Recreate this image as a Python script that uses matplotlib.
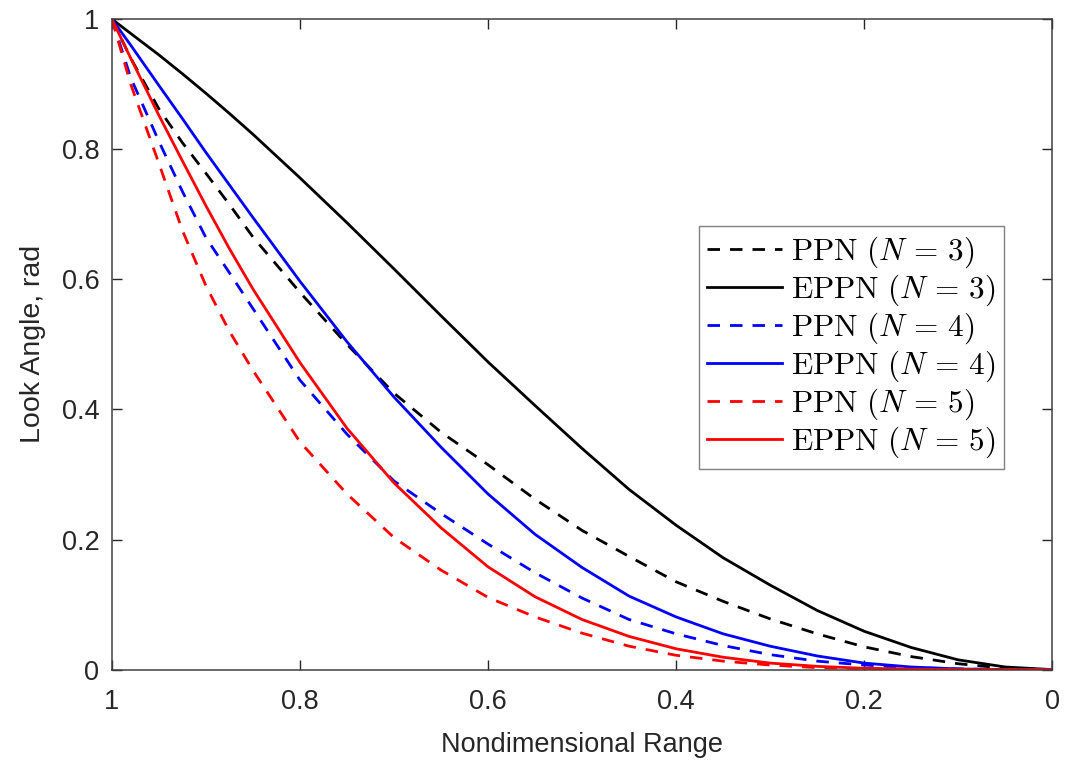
import matplotlib
matplotlib.use("Agg")
import matplotlib.pyplot as plt

# Nondimensional range (x axis runs from 1 down to 0)
rng = [1.0, 0.99, 0.98, 0.95, 0.925, 0.9, 0.875, 0.85, 0.8, 0.75, 0.7, 0.65, 0.6,
       0.55, 0.5, 0.45, 0.4, 0.35, 0.3, 0.25, 0.2, 0.15, 0.1, 0.05, 0.0]

# look angle [rad]
ppn3  = [1.0, 0.97, 0.94, 0.862, 0.81, 0.763, 0.715, 0.665, 0.58, 0.50, 0.425,
         0.365, 0.315, 0.262, 0.214, 0.174, 0.135, 0.105, 0.078, 0.055, 0.035,
         0.02, 0.009, 0.002, 0.0]
eppn3 = [1.0, 0.989, 0.978, 0.945, 0.916, 0.886, 0.855, 0.823, 0.756, 0.687,
         0.616, 0.544, 0.473, 0.406, 0.34, 0.277, 0.222, 0.172, 0.13, 0.091,
         0.059, 0.034, 0.015, 0.004, 0.0]
ppn4  = [1.0, 0.955, 0.91, 0.812, 0.735, 0.664, 0.61, 0.555, 0.445, 0.362, 0.29,
         0.24, 0.193, 0.149, 0.11, 0.077, 0.055, 0.037, 0.023, 0.013, 0.007,
         0.003, 0.001, 0.0, 0.0]
eppn4 = [1.0, 0.98, 0.96, 0.898, 0.847, 0.795, 0.745, 0.695, 0.597, 0.504, 0.419,
         0.342, 0.27, 0.208, 0.157, 0.113, 0.081, 0.055, 0.036, 0.021, 0.01,
         0.004, 0.001, 0.0, 0.0]
ppn5  = [1.0, 0.95, 0.90, 0.778, 0.675, 0.59, 0.52, 0.46, 0.35, 0.27, 0.203,
         0.153, 0.111, 0.081, 0.056, 0.036, 0.022, 0.013, 0.007, 0.003, 0.0015,
         0.0005, 0.0, 0.0, 0.0]
eppn5 = [1.0, 0.97, 0.94, 0.852, 0.782, 0.713, 0.647, 0.585, 0.472, 0.371, 0.287,
         0.218, 0.158, 0.112, 0.077, 0.051, 0.032, 0.019, 0.01, 0.005, 0.002,
         0.0006, 0.0001, 0.0, 0.0]

series = [
    (ppn3,  "k",       "--", r"$\mathrm{PPN}\ (N\,=\,3)$"),
    (eppn3, "k",       "-",  r"$\mathrm{EPPN}\ (N\,=\,3)$"),
    (ppn4,  "#0000ff", "--", r"$\mathrm{PPN}\ (N\,=\,4)$"),
    (eppn4, "#0000ff", "-",  r"$\mathrm{EPPN}\ (N\,=\,4)$"),
    (ppn5,  "#ff0000", "--", r"$\mathrm{PPN}\ (N\,=\,5)$"),
    (eppn5, "#ff0000", "-",  r"$\mathrm{EPPN}\ (N\,=\,5)$"),
]

xticks = [1.0, 0.8, 0.6, 0.4, 0.2, 0.0]
xticklabels = ["1", "0.8", "0.6", "0.4", "0.2", "0"]
yticks = [0.0, 0.2, 0.4, 0.6, 0.8, 1.0]
yticklabels = ["0", "0.2", "0.4", "0.6", "0.8", "1"]

plt.rcParams.update({
    "font.family": ["Liberation Sans", "DejaVu Sans"],
    "mathtext.fontset": "cm",
    "axes.edgecolor": "#404040",
    "axes.linewidth": 1.1,
})

fig = plt.figure(figsize=(10.66, 7.67), dpi=100)
ax = fig.add_axes([0.105, 0.127, 0.882, 0.848])

for ys, c, ls, lab in series:
    line, = ax.plot(rng, ys, color=c, ls=ls, lw=2.0, label=lab)
    if ls == "--":
        line.set_dashes((4.5, 3.6))

ax.set_xlim(1, 0)
ax.set_ylim(0, 1)
ax.set_xticks(xticks)
ax.set_xticklabels(xticklabels)
ax.set_yticks(yticks)
ax.set_yticklabels(yticklabels)
ax.tick_params(direction="in", length=7, width=1.0, colors="#262626",
               labelsize=19.5, top=True, right=True)
ax.tick_params(axis="x", pad=14)
ax.tick_params(axis="y", pad=9)

ax.set_xlabel("Nondimensional Range", fontsize=19.5, color="#262626", labelpad=12)
ax.set_ylabel("Look Angle, rad", fontsize=20.5, color="#262626", labelpad=11)

leg = ax.legend(loc="upper right", bbox_to_anchor=(0.949, 0.682),
                fontsize=22.5, handlelength=2.4, handletextpad=0.27,
                labelspacing=0.08, borderpad=0.28, borderaxespad=0,
                fancybox=False, framealpha=1, edgecolor="#808080")
leg.get_frame().set_linewidth(1.0)

fig.savefig("out.png", dpi=100)
